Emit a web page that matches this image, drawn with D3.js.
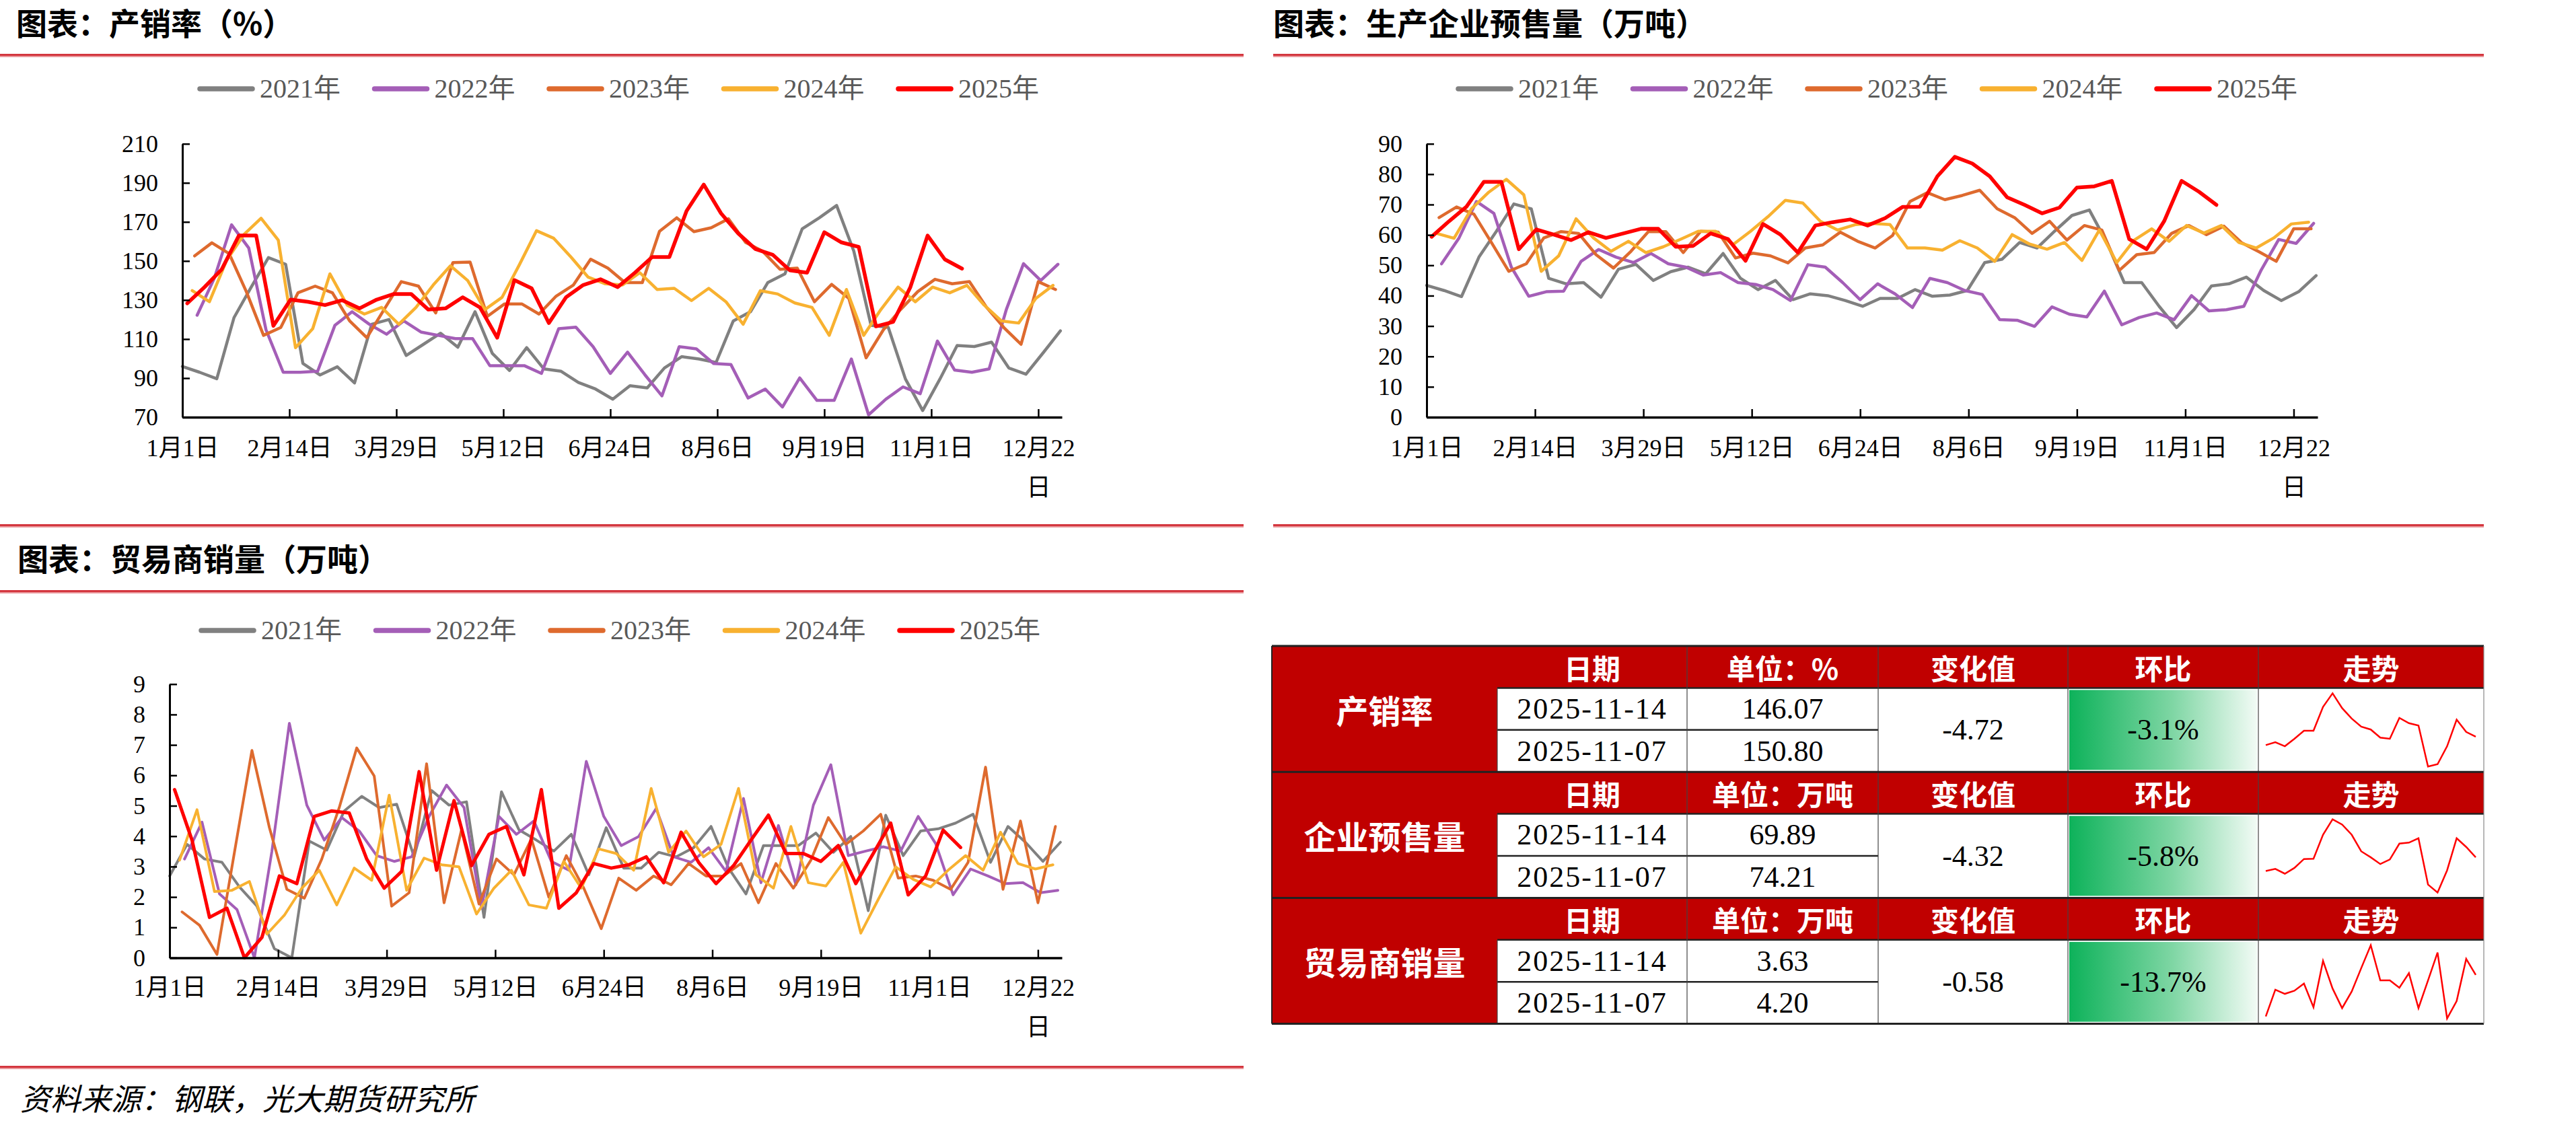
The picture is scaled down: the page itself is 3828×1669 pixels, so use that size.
<!DOCTYPE html>
<html>
<head>
<meta charset="utf-8">
<script src="https://cdn.jsdelivr.net/npm/d3@7"></script>
<style>
  body { margin: 0; background: #fff; }
  svg { display: block; }
</style>
</head>
<body>
<svg id="chart" width="3828" height="1669"></svg>
<script>
// ---- data ----
var years = ["2021年", "2022年", "2023年", "2024年", "2025年"];
var colors = ["#808080", "#A45EB7", "#DE6A2E", "#F8B130", "#FF0000"];
var startDays = [0, 6, 5, 4, 2];            // first weekly date of each year, day of year
var tickDays = [0, 43.5, 87, 130.5, 174, 217.5, 261, 304.5, 348];
var tickLabels = ["1月1日", "2月14日", "3月29日", "5月12日", "6月24日", "8月6日", "9月19日", "11月1日", "12月22日"];

// 产销率 (%)
var rate2021 = [96, 93, 89.7, 121, 136.6, 151.7, 148.3, 97.5, 91.6, 95.8, 87.5, 117.6, 120, 101.6, 107.3, 113, 105.8, 124, 102.7, 93.9, 105.6, 94.7, 93.5, 87.8, 84.4, 79.2, 86.1, 85, 95.2, 101, 99.8, 98, 119.3, 124, 138.9, 143.4, 166.4, 172.1, 178.4, 155, 117, 116, 89.5, 73.4, 89.5, 106.7, 106.2, 108.4, 95.2, 92, 103, 114.2];
var rate2022 = [122.2, 141.2, 168.5, 156.6, 114.8, 93, 93, 93.5, 117, 124, 117.6, 112.5, 119.3, 113.6, 111.9, 110.2, 110.2, 96.4, 96.4, 96.4, 92.4, 115.3, 116.1, 106.1, 92.4, 103.3, 91.8, 80.9, 106.1, 105, 97.5, 97, 79.8, 84.4, 75.2, 90.1, 78.6, 78.6, 99.8, 71.2, 79.2, 85.5, 82, 109, 94.1, 93, 94.7, 125.1, 148.6, 140, 148.3];
var rate2023 = [152.6, 159.3, 153.8, 134.3, 111.9, 115.9, 133.7, 137.1, 133.7, 119.3, 110.7, 125.1, 139.4, 137.1, 123.4, 149.2, 149.4, 121.6, 128, 128, 122.8, 132, 137.7, 150.9, 146.3, 138.9, 138.9, 165.2, 172.1, 165, 167, 171.6, 159.5, 154.9, 145.7, 146.3, 129.1, 138, 130.8, 100.4, 114.7, 125.1, 134.3, 140.6, 138.3, 139.4, 126.2, 115.9, 107.3, 139.4, 135.4];
var rate2024 = [134.8, 129.1, 150.3, 163.5, 171.9, 160.7, 105.6, 115.3, 143.4, 127.4, 122.8, 126.2, 117.6, 126.2, 137.7, 147.5, 140, 125.1, 131.4, 148, 165.5, 161.6, 152, 141.7, 138.3, 137.7, 144, 135.4, 136, 129.7, 136, 129.1, 117.6, 134.8, 133.1, 128.5, 126.2, 111.9, 135.4, 111.9, 125.1, 136.6, 129.1, 136.6, 133.7, 137.5, 127.4, 119.3, 118.2, 130.8, 137.5];
var rate2025 = [128.3, 136.6, 145.7, 163, 163, 116.8, 130.2, 129.1, 127.4, 129.9, 125.7, 130.2, 133.1, 133.1, 125.1, 125.7, 131.4, 126.2, 110.7, 140.2, 136, 118.2, 131.4, 137.7, 140.6, 136.6, 144, 152, 152, 175.6, 189.1, 174.4, 164.1, 156.1, 153.2, 145.2, 144, 164.7, 159.5, 157.2, 116.5, 118.8, 136.6, 163, 150.80, 146.07];

// 生产企业预售量 (万吨)
var pre2021 = [43.4, 41.7, 39.7, 52.7, 61.2, 70.2, 68.6, 45.7, 43.9, 44.3, 39.5, 48.7, 50.3, 45, 47.9, 49.4, 47.2, 53.9, 45.7, 42, 45, 38.7, 40.6, 40, 38.4, 36.5, 39.1, 39.1, 42, 39.8, 40.2, 41.7, 50.9, 52, 57.5, 55.7, 61.2, 66.4, 68.2, 57.5, 44.3, 44.3, 36.5, 29.5, 35.4, 43.2, 43.9, 46.1, 41.7, 38.4, 41.3, 46.6];
var pre2022 = [50.5, 59, 71, 67.1, 49.4, 39.8, 41.3, 41.5, 51.3, 55.2, 52.7, 50.9, 53.9, 50.5, 49.4, 46.8, 47.6, 44.3, 43.7, 42, 38.4, 50.2, 49.4, 44.3, 38.7, 43.9, 40.6, 36.1, 45.7, 44.3, 41.7, 40.4, 32.1, 31.9, 29.9, 36.3, 33.9, 33, 41.5, 30.4, 32.8, 34.3, 32.1, 40, 35, 35.4, 36.5, 48.5, 58.5, 57.2, 63.8];
var pre2023 = [65.7, 69.2, 66.8, 57.5, 48, 50.5, 59, 61.1, 60.5, 53.5, 49.1, 54.6, 61.1, 61.1, 54.2, 61.2, 60.9, 52.4, 54, 53.1, 50.8, 55.7, 56.7, 60.9, 57.9, 55.7, 59.8, 71, 73.9, 71.6, 73, 74.7, 68.6, 65.7, 60.5, 64.5, 58.3, 63.1, 61.6, 48.3, 53.5, 54.2, 60.5, 63.1, 60.1, 62.9, 57.5, 54.5, 51.3, 62, 62];
var pre2024 = [60.5, 58.9, 68.6, 74.1, 78.3, 73.2, 48, 53.1, 65.3, 59, 54.6, 57.9, 54.2, 56.1, 58.6, 61.2, 61.2, 56.8, 61.2, 66, 71.4, 70.5, 64.5, 61.6, 63.4, 63.8, 63.4, 55.7, 55.7, 55, 58.1, 55.7, 51.3, 60.1, 57, 55.3, 57.5, 51.6, 61.6, 50.9, 58.3, 62, 57.9, 63.1, 60.6, 63.1, 57.5, 55.7, 59, 63.6, 64.2];
var pre2025 = [59.4, 64.5, 69.3, 77.5, 77.5, 55.3, 61.8, 60.1, 58.3, 60.9, 59, 60.5, 62, 62, 56.1, 56.4, 60.5, 58.6, 51.5, 63.6, 60.1, 54.2, 63.1, 64.2, 65.1, 63.1, 65.5, 69.2, 69.3, 79.3, 85.7, 83.5, 79.3, 72.4, 69.9, 67.1, 69, 75.6, 76, 77.8, 58.6, 55.3, 64.5, 77.8, 74.21, 69.89];

// 贸易商销量 (万吨)
var trd2021 = [2.69, 3.73, 3.25, 3.14, 2.33, 1.70, 0.30, 0.0, 3.84, 3.54, 4.83, 5.31, 4.94, 5.05, 3.32, 5.50, 5.02, 5.13, 1.33, 5.46, 4.21, 3.87, 3.51, 4.06, 2.73, 4.28, 2.95, 2.95, 3.47, 3.32, 3.62, 4.32, 2.95, 2.1, 3.69, 3.69, 3.69, 4.1, 3.47, 3.99, 1.55, 4.69, 3.36, 4.17, 4.24, 4.43, 4.72, 3.14, 4.32, 3.8, 3.17, 3.8];
var trd2022 = [3.25, 4.46, 2.10, 1.59, 0.0, 3.5, 7.71, 5.02, 3.87, 4.61, 4.17, 3.36, 3.17, 3.32, 4.65, 5.68, 4.94, 1.63, 4.65, 4.06, 4.50, 3.17, 2.88, 6.46, 4.65, 3.69, 3.99, 4.91, 3.32, 3.14, 3.62, 2.84, 5.24, 2.47, 4.35, 2.40, 5.02, 6.35, 3.36, 3.51, 3.65, 3.51, 4.65, 3.76, 2.07, 2.92, 2.69, 2.44, 2.47, 2.14, 2.22];
var trd2023 = [1.51, 1.07, 0.11, 3.47, 6.82, 4.28, 2.25, 1.96, 3.25, 4.94, 6.90, 5.98, 1.70, 2.14, 6.38, 1.81, 4.21, 1.77, 3.25, 2.73, 3.91, 1.99, 3.36, 2.29, 0.96, 2.62, 2.22, 2.69, 2.40, 3.10, 2.69, 2.69, 3.10, 1.81, 3.10, 2.29, 3.21, 4.61, 3.73, 4.17, 4.72, 2.62, 2.69, 2.55, 2.25, 3.14, 6.27, 2.25, 4.50, 1.81, 4.32];
var trd2024 = [3.21, 4.87, 2.18, 2.22, 2.51, 0.78, 1.40, 2.29, 2.88, 1.74, 2.95, 2.55, 5.35, 2.22, 3.28, 3.06, 2.99, 1.44, 2.29, 2.88, 1.74, 1.63, 3.17, 2.29, 3.58, 3.43, 2.88, 5.57, 3.47, 4.17, 3.32, 3.73, 5.57, 2.73, 2.29, 4.32, 2.47, 2.36, 3.14, 0.81, 1.92, 2.99, 2.58, 2.33, 2.88, 3.36, 2.88, 4.13, 3.10, 2.92, 3.06];
var trd2025 = [5.53, 3.87, 1.33, 1.63, 0.0, 0.67, 2.69, 2.44, 4.65, 4.83, 4.76, 3.25, 2.29, 2.84, 6.12, 2.88, 5.17, 3.03, 4.06, 4.32, 2.73, 5.53, 1.63, 2.14, 3.10, 2.95, 3.06, 3.32, 2.47, 4.13, 3.14, 2.44, 3.03, 3.87, 4.69, 3.43, 3.43, 3.17, 3.69, 2.44, 3.43, 4.43, 2.07, 2.69, 4.20, 3.63];

// table
var tableNames = ["产销率", "企业预售量", "贸易商销量"];
var tableUnits = ["单位：%", "单位：万吨", "单位：万吨"];
var tableHeads = ["日期", "", "变化值", "环比", "走势"];
var tableDates = ["2025-11-14", "2025-11-07"];
var tableLatest = ["146.07", "69.89", "3.63"];
var tablePrev = ["150.80", "74.21", "4.20"];
var tableChange = ["-4.72", "-4.32", "-0.58"];
var tableRatio = ["-3.1%", "-5.8%", "-13.7%"];
var sparkCount = 23;

// ---- drawing ----
var serif = "'Liberation Serif','Times New Roman','Noto Sans CJK SC',serif";
var cjk = "'Noto Sans CJK SC','Noto Sans',sans-serif";
var svg = d3.select("#chart");
svg.append("rect").attr("width", 3828).attr("height", 1669).attr("fill", "#fff");

// red rules
[[0, 1848, 80], [1892, 3691, 80], [0, 1848, 779], [1892, 3691, 779], [0, 1848, 877], [0, 1848, 1584]].forEach(function (r) {
  svg.append("rect").attr("x", r[0]).attr("y", r[2]).attr("width", r[1] - r[0]).attr("height", 3.5).attr("fill", "#D4363E");
  svg.append("rect").attr("x", r[0]).attr("y", r[2] + 3.5).attr("width", r[1] - r[0]).attr("height", 1.5).attr("fill", "#EB9A9D");
});

// titles
function title(txt, x, cy) {
  svg.append("text").attr("x", x).attr("y", cy + 17).text(txt)
    .style("font-family", cjk).style("font-weight", "700").style("font-size", "46px").style("fill", "#000");
}
title("图表：产销率（%）", 24, 35);
title("图表：生产企业预售量（万吨）", 1892, 35);
title("图表：贸易商销量（万吨）", 26, 831);

svg.append("text").attr("x", 30).attr("y", 1650).text("资料来源：钢联，光大期货研究所")
  .style("font-family", cjk).style("font-style", "italic").style("font-size", "45px").style("fill", "#000");

function drawChart(cfg) {
  var g = svg.append("g");
  var x = d3.scaleLinear().domain([0, 357.6]).range([cfg.x0, cfg.x1]);
  var y = d3.scaleLinear().domain(cfg.yDomain).range([cfg.yBottom, cfg.yTop]);

  // legend
  years.forEach(function (yr, k) {
    var lx = cfg.legendX + k * 259.5;
    g.append("line").attr("x1", lx + 4).attr("x2", lx + 82).attr("y1", cfg.legendY).attr("y2", cfg.legendY)
      .style("stroke", colors[k]).style("stroke-width", 7.5).style("stroke-linecap", "round");
    g.append("text").attr("x", lx + 93).attr("y", cfg.legendY + 13).text(yr)
      .style("font-family", serif).style("font-size", "40px").style("fill", "#595959");
  });

  // series
  cfg.series.forEach(function (vals, k) {
    var line = d3.line()
      .x(function (d, i) { return x(startDays[k] + 7 * i); })
      .y(function (d) { return y(d); });
    g.append("path").datum(vals).attr("d", line)
      .style("fill", "none").style("stroke", colors[k])
      .style("stroke-width", k == 4 ? cfg.lw + 1 : cfg.lw)
      .style("stroke-linejoin", "round").style("stroke-linecap", "round");
  });

  // y axis
  var ya = g.append("g").attr("transform", "translate(" + cfg.x0 + ",0)")
    .call(d3.axisLeft(y).tickValues(cfg.yTicks).tickSizeInner(-11).tickSizeOuter(0).tickPadding(36).tickFormat(d3.format("d")));
  ya.attr("font-family", serif).attr("font-size", 36);
  ya.select(".domain").style("stroke-width", 3);
  ya.selectAll(".tick line").style("stroke-width", 2.5);

  // x axis
  var xa = g.append("g").attr("transform", "translate(0," + cfg.yBottom + ")")
    .call(d3.axisBottom(x).tickValues(tickDays).tickSizeInner(-12).tickSizeOuter(0)
      .tickFormat(function (d, i) { return tickLabels[i]; }));
  xa.attr("font-family", serif).attr("font-size", 36);
  xa.select(".domain").style("stroke-width", 3.5);
  xa.selectAll(".tick line").style("stroke-width", 2.5);
  xa.selectAll(".tick text").attr("y", cfg.labelDy).attr("dy", 0).each(function () {
    var t = d3.select(this), s = t.text();
    if (s.length > 5) {
      t.text("");
      t.append("tspan").attr("x", 0).text(s.slice(0, -1));
      t.append("tspan").attr("x", 0).attr("dy", 59).text(s.slice(-1));
    }
  });
}

drawChart({ x0: 271, x1: 1578, yTop: 213.7, yBottom: 620, yDomain: [70, 210], yTicks: d3.range(70, 211, 20),
  legendX: 293, legendY: 132, lw: 4.5, labelDy: 58, series: [rate2021, rate2022, rate2023, rate2024, rate2025] });
drawChart({ x0: 2120, x1: 3444, yTop: 213.7, yBottom: 620, yDomain: [0, 90], yTicks: d3.range(0, 91, 10),
  legendX: 2163, legendY: 132, lw: 4.5, labelDy: 58, series: [pre2021, pre2022, pre2023, pre2024, pre2025] });
drawChart({ x0: 252, x1: 1578, yTop: 1016.7, yBottom: 1423.5, yDomain: [0, 9], yTicks: d3.range(0, 10, 1),
  legendX: 295, legendY: 937, lw: 4, labelDy: 56, series: [trd2021, trd2022, trd2023, trd2024, trd2025] });

// ---- table ----
var colX = [1890, 2225, 2507, 2791, 3073, 3356, 3691];
var tableTop = 960, blockH = 187.2, rowH = 62.4;
var defs = svg.append("defs");
var grad = defs.append("linearGradient").attr("id", "greenFade").attr("x1", "0%").attr("x2", "100%").attr("y1", "0%").attr("y2", "0%");
grad.append("stop").attr("offset", "0%").attr("stop-color", "#0DB25A");
grad.append("stop").attr("offset", "55%").attr("stop-color", "#7FD6A4");
grad.append("stop").attr("offset", "100%").attr("stop-color", "#F2FBF5");

var sparkData = [rate2025, pre2025, trd2025];
var tg = svg.append("g");

function cellText(txt, cx, cy, size, color, font, weight, spacing) {
  tg.append("text").attr("x", cx).attr("y", cy).attr("text-anchor", "middle").attr("dominant-baseline", "central")
    .text(txt).style("font-family", font).style("font-size", size + "px").style("fill", color)
    .style("font-weight", weight || "400").style("letter-spacing", (spacing || 0) + "px");
}

tableNames.forEach(function (name, b) {
  var top = tableTop + b * blockH, bottom = top + blockH;
  var mid = function (c) { return (colX[c] + colX[c + 1]) / 2; };
  tg.append("rect").attr("x", colX[0]).attr("y", top).attr("width", colX[1] - colX[0]).attr("height", blockH).attr("fill", "#C00000");
  tg.append("rect").attr("x", colX[1]).attr("y", top).attr("width", colX[6] - colX[1]).attr("height", rowH).attr("fill", "#C00000");
  tg.append("rect").attr("x", colX[4] + 2).attr("y", top + rowH + 3).attr("width", colX[5] - colX[4] - 4).attr("height", blockH - rowH - 6)
    .attr("fill", "url(#greenFade)");

  cellText(name, mid(0), top + blockH / 2, 48, "#fff", cjk, "700");
  var heads = tableHeads.slice();
  heads[1] = tableUnits[b];
  heads.forEach(function (h, c) { cellText(h, mid(c + 1), top + rowH / 2, 42, "#fff", cjk, "700"); });

  cellText(tableDates[0], mid(1), top + rowH * 1.5, 44, "#000", serif, "400", 2);
  cellText(tableDates[1], mid(1), top + rowH * 2.5, 44, "#000", serif, "400", 2);
  cellText(tableLatest[b], mid(2), top + rowH * 1.5, 44, "#000", serif);
  cellText(tablePrev[b], mid(2), top + rowH * 2.5, 44, "#000", serif);
  cellText(tableChange[b], mid(3), top + rowH * 2, 44, "#000", serif);
  cellText(tableRatio[b], mid(4), top + rowH * 2, 44, "#000", serif);

  // sparkline from the last weeks of 2025
  var sd = sparkData[b].slice(-sparkCount);
  var sx = d3.scaleLinear().domain([0, sd.length - 1]).range([colX[5] + 11, colX[6] - 12]);
  var sy = d3.scaleLinear().domain(d3.extent(sd)).range([bottom - 8, top + rowH + 8]);
  tg.append("path").datum(sd).attr("d", d3.line().x(function (d, i) { return sx(i); }).y(function (d) { return sy(d); }))
    .style("fill", "none").style("stroke", "#FF0000").style("stroke-width", 2.5);

  // grid lines
  [[colX[1], colX[6], top + rowH], [colX[1], colX[3], top + rowH * 2]].forEach(function (l) {
    tg.append("line").attr("x1", l[0]).attr("x2", l[1]).attr("y1", l[2]).attr("y2", l[2]).style("stroke", "#222").style("stroke-width", 2.5);
  });
  [2, 3, 4, 5].forEach(function (c) {
    tg.append("line").attr("x1", colX[c]).attr("x2", colX[c]).attr("y1", top).attr("y2", bottom).style("stroke", "#444").style("stroke-width", 1.2);
  });
  tg.append("line").attr("x1", colX[1]).attr("x2", colX[1]).attr("y1", top + rowH).attr("y2", bottom).style("stroke", "#444").style("stroke-width", 1.2);
  tg.append("line").attr("x1", colX[0]).attr("x2", colX[6]).attr("y1", top).attr("y2", top).style("stroke", "#222").style("stroke-width", 3);
});
tg.append("line").attr("x1", colX[0]).attr("x2", colX[6]).attr("y1", tableTop + 3 * blockH).attr("y2", tableTop + 3 * blockH).style("stroke", "#222").style("stroke-width", 3);
tg.append("line").attr("x1", colX[0]).attr("x2", colX[0]).attr("y1", tableTop).attr("y2", tableTop + 3 * blockH).style("stroke", "#222").style("stroke-width", 2);
tg.append("line").attr("x1", colX[6]).attr("x2", colX[6]).attr("y1", tableTop).attr("y2", tableTop + 3 * blockH).style("stroke", "#888").style("stroke-width", 1.2);
</script>
</body>
</html>
